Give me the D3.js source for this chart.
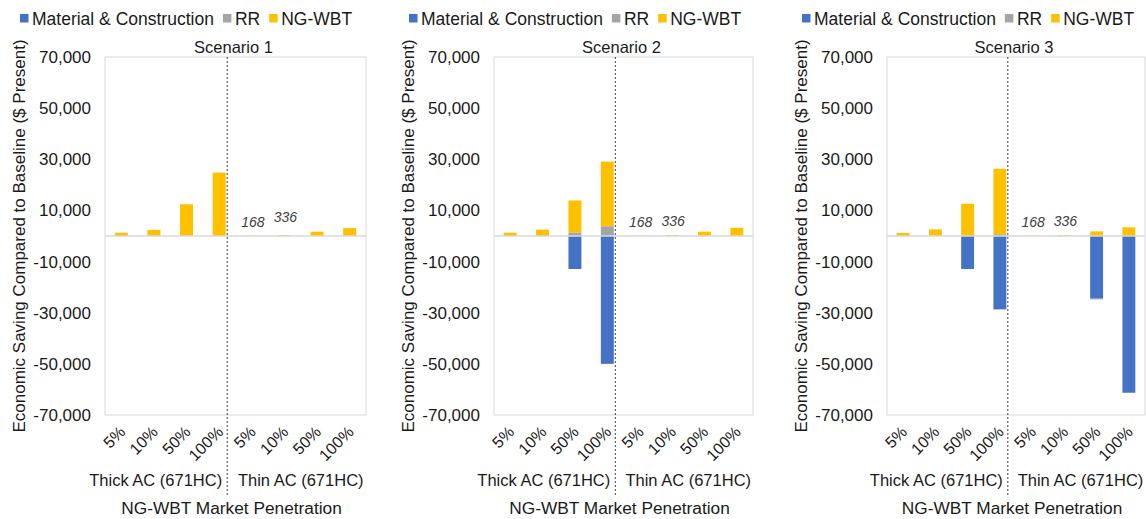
<!DOCTYPE html>
<html><head><meta charset="utf-8">
<script src="https://cdn.jsdelivr.net/npm/d3@7/dist/d3.min.js"></script>
<style>body{margin:0;background:#fff}</style>
</head><body>
<script>
// ---------- data ----------
const categories = ["5%","10%","50%","100%","5%","10%","50%","100%"];
const groups = ["Thick AC (671HC)","Thin AC (671HC)"];
const seriesNames = ["Material & Construction","RR","NG-WBT"];
const yTickValues = [-70000,-50000,-30000,-10000,10000,30000,50000,70000];
const yTickLabels = ["-70,000","-50,000","-30,000","-10,000","10,000","30,000","50,000","70,000"];
const titles = ["Scenario 1","Scenario 2","Scenario 3"];

const s1Material = [0,0,0,0,0,0,0,0];
const s1RR       = [0,0,0,0,0,0,0,0];
const s1NGWBT    = [1300,2400,12400,24800,168,336,1700,3100];

const s2Material = [0,0,-12900,-50000,0,0,0,0];
const s2RR       = [0,0,1400,3800,0,0,0,0];
const s2NGWBT    = [1300,2500,12500,25300,168,336,1700,3200];

const s3Material = [0,0,-12900,-28700,0,0,-24500,-61300];
const s3RR       = [0,0,0,700,0,0,-300,0];
const s3NGWBT    = [1200,2600,12600,25600,168,336,1800,3400];

const labelIdx = [4,5]; // bars whose tiny value is written as label

// ---------- layout ----------
const W = 1146, H = 519;
const colors = ["#4472C4","#A5A5A5","#FFC000"];
const panels = [
  {left:105, right:366, mat:s1Material, rr:s1RR, ng:s1NGWBT},
  {left:494, right:753, mat:s2Material, rr:s2RR, ng:s2NGWBT},
  {left:887, right:1145, mat:s3Material, rr:s3RR, ng:s3NGWBT}
];
const plotTop = 57, plotBottom = 415;
const textCol = "#1a1a1a";

const svg = d3.select("body").append("svg")
  .attr("width", W).attr("height", H)
  .style("font-family", "Arial, 'Liberation Sans', sans-serif");

const y = d3.scaleLinear().domain([-70000,70000]).range([plotBottom, plotTop]);

panels.forEach((p, pi) => {
  const g = svg.append("g");
  const x = d3.scaleBand().domain(d3.range(categories.length))
    .range([p.left, p.right]).paddingInner(0.6).paddingOuter(0.3);

  // legend
  let lx = p.left - 85;
  seriesNames.forEach((name, i) => {
    g.append("rect").attr("x", lx).attr("y", 14).attr("width", 8.5).attr("height", 8.5).attr("fill", colors[i]);
    const t = g.append("text").attr("x", lx + 12).attr("y", 24.5)
      .attr("font-size", 17.5).attr("fill", textCol).text(name);
    lx += 12 + t.node().getComputedTextLength() + 9;
  });

  // title
  g.append("text").attr("x", (p.left + p.right)/2 - 2).attr("y", 52.5)
    .attr("text-anchor","middle").attr("font-size",16.5).attr("fill",textCol).text(titles[pi]);

  // plot border
  g.append("rect").attr("x", p.left).attr("y", plotTop)
    .attr("width", p.right - p.left).attr("height", plotBottom - plotTop)
    .attr("fill","none").attr("stroke","#d9d9d9").attr("stroke-width",1);

  // y axis
  const ya = g.append("g").attr("transform", `translate(${p.left},0)`)
    .call(d3.axisLeft(y).tickValues(yTickValues).tickSize(0).tickPadding(14)
      .tickFormat((d,i) => yTickLabels[i]));
  ya.select(".domain").remove();
  ya.selectAll("text").attr("font-size",17).attr("fill",textCol)
    .style("font-family","Arial, 'Liberation Sans', sans-serif");

  // y title
  g.append("text")
    .attr("transform", `translate(${p.left - 80},${(plotTop+plotBottom)/2}) rotate(-90)`)
    .attr("text-anchor","middle").attr("font-size",17).attr("fill",textCol)
    .text("Economic Saving Compared to Baseline ($ Present)");

  // stacked bars
  const rows = categories.map((c, i) => ({i, a: p.mat[i], b: p.rr[i], c: p.ng[i]}));
  const stack = d3.stack().keys(["a","b","c"]).offset(d3.stackOffsetDiverging)(rows);
  stack.forEach((layer, li) => {
    g.append("g").attr("fill", colors[li]).selectAll("rect").data(layer).join("rect")
      .attr("x", d => x(d.data.i))
      .attr("width", x.bandwidth())
      .attr("y", d => y(Math.max(d[0], d[1])))
      .attr("height", d => Math.abs(y(d[0]) - y(d[1])));
  });

  // zero line
  g.append("line").attr("x1", p.left).attr("x2", p.right)
    .attr("y1", y(0)).attr("y2", y(0)).attr("stroke","#d9d9d9").attr("stroke-width",1.5);

  // value labels for tiny bars
  labelIdx.forEach((i, k) => {
    g.append("text").attr("x", x(i) + x.bandwidth()/2 + 1).attr("y", y(p.ng[i]) - 9 - (pi === 0 && k === 1 ? 4 : 0))
      .attr("text-anchor","middle").attr("font-size",14).attr("font-style","italic")
      .attr("fill","#404040").text(p.ng[i]);
  });

  // x tick labels
  categories.forEach((c, i) => {
    const cx = x(i) + x.bandwidth()/2 + 5;
    g.append("text").attr("transform", `translate(${cx},433) rotate(-45)`)
      .attr("text-anchor","end").attr("font-size",16).attr("fill",textCol).text(c);
  });

  // divider
  const dx = x(3) + x.bandwidth() + 1.5;
  g.append("line").attr("x1", dx).attr("x2", dx).attr("y1", plotTop).attr("y2", 495)
    .attr("stroke","#404040").attr("stroke-width",1).attr("stroke-dasharray","2,2");

  // group labels
  g.append("text").attr("x", dx - 5).attr("y", 486).attr("text-anchor","end")
    .attr("font-size",16.5).attr("fill",textCol).text(groups[0]);
  const thinC = (x(4) + x(7) + x.bandwidth())/2;
  g.append("text").attr("x", thinC).attr("y", 486).attr("text-anchor","middle")
    .attr("font-size",16.5).attr("fill",textCol).text(groups[1]);

  // x title
  g.append("text").attr("x", (p.left + p.right)/2 - 4).attr("y", 514)
    .attr("text-anchor","middle").attr("font-size",17.3).attr("fill",textCol)
    .text("NG-WBT Market Penetration");
});
</script>
</body></html>
